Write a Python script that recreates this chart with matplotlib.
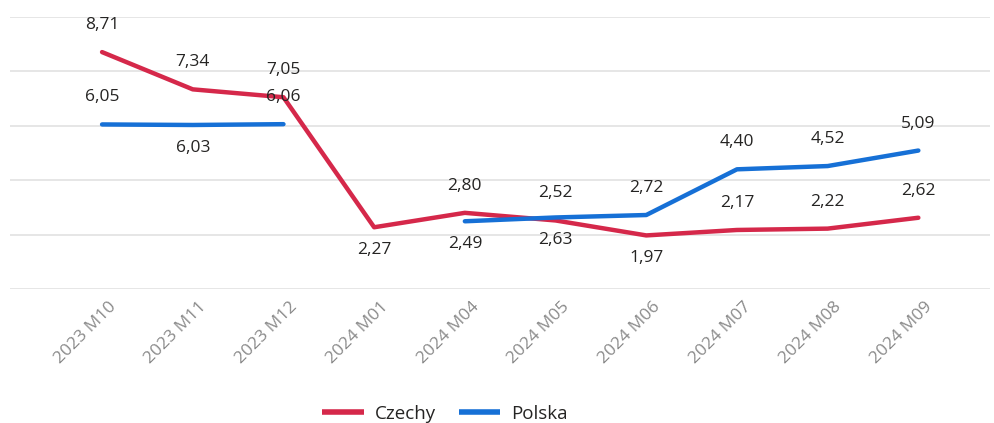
import matplotlib
matplotlib.use("Agg")
import matplotlib.pyplot as plt
import matplotlib.transforms as mtransforms
import numpy as np

categories = ["2023 M10", "2023 M11", "2023 M12", "2024 M01", "2024 M04",
              "2024 M05", "2024 M06", "2024 M07", "2024 M08", "2024 M09"]
czechy = [8.71, 7.34, 7.05, 2.27, 2.80, 2.52, 1.97, 2.17, 2.22, 2.62]
polska = [6.05, 6.03, 6.06, np.nan, 2.49, 2.63, 2.72, 4.40, 4.52, 5.09]

# label placement: +1 above, -1 below
czechy_pos = [1, 1, 1, -1, 1, 1, -1, 1, 1, 1]
polska_pos = [1, -1, 1, 0, -1, -1, 1, 1, 1, 1]

RED = "#D5284A"
BLUE = "#1670D6"

plt.rcParams['font.family'] = ['Open Sans', 'DejaVu Sans']

fig = plt.figure(figsize=(9.94, 4.23), dpi=100)
ax = fig.add_axes([10/994, 134/423, 980/994, 272/423])

x = np.arange(len(categories))
ax.plot(x, czechy, color=RED, lw=3.2, solid_capstyle='round', solid_joinstyle='round', label="Czechy", zorder=3)
ax.plot(x, polska, color=BLUE, lw=3.2, solid_capstyle='round', solid_joinstyle='round', label="Polska", zorder=3)

for xs, ys, ps in [(x, czechy, czechy_pos), (x, polska, polska_pos)]:
    for xi, yi, p in zip(xs, ys, ps):
        if np.isnan(yi) or p == 0:
            continue
        off = 27 if p > 0 else -23
        ax.annotate(f"{yi:.2f}".replace(".", ","), (xi, yi), xytext=(0, off),
                    textcoords="offset pixels", ha="center", va="center",
                    fontsize=12.5, color="#252423", zorder=4)

ax.set_xlim(-1.015, 9.79)
ax.set_ylim(0, 10)
ax.set_yticks([0, 2, 4, 6, 8, 10])
ax.set_yticklabels([])
ax.tick_params(axis='y', length=0)
ax.grid(axis='y', color="#E1E1E1", lw=1.2)
ax.set_axisbelow(True)
for s in ax.spines.values():
    s.set_visible(False)

ax.set_xticks(x)
ax.set_xticklabels(categories, rotation=45, ha="right", rotation_mode="anchor",
                   fontsize=12.5, color="#8A8A8A")
ax.tick_params(axis='x', length=0, pad=7)
offset = mtransforms.ScaledTranslation(6/100, 0, fig.dpi_scale_trans)
for lab in ax.get_xticklabels():
    lab.set_transform(lab.get_transform() + offset)

leg = fig.legend(loc="center", bbox_to_anchor=(445/994, 1 - 414/423), ncol=2,
                 frameon=False, fontsize=13.5, handlelength=2.2, columnspacing=1.2,
                 handletextpad=0.6)
for t in leg.get_texts():
    t.set_color("#252423")
for h in leg.get_lines():
    h.set_linewidth(4)
    h.set_solid_capstyle('butt')

fig.savefig("out.png", dpi=100)
